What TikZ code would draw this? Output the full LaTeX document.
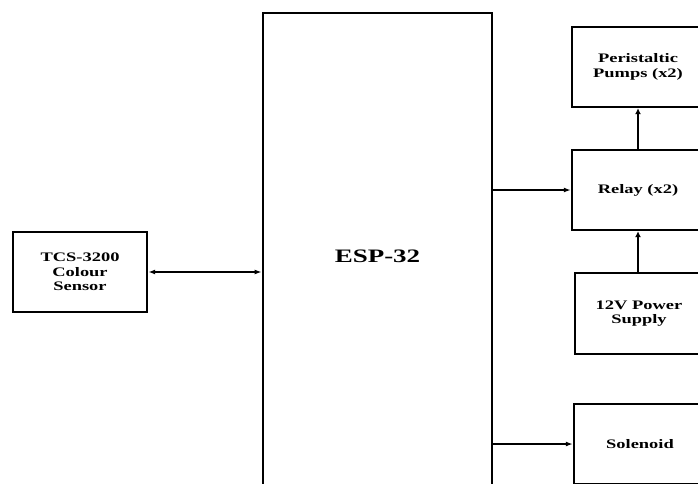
\documentclass[tikz,border=0pt]{standalone}
\usepackage{fontspec}
\setmainfont{Liberation Serif}[FakeStretch=1.42]
\usetikzlibrary{arrows.meta}
\begin{document}
\begin{tikzpicture}[x=1pt,y=-1pt,
  blk/.style={draw=black, line width=2.4pt, rectangle, align=center, inner sep=0pt,
    font=\bfseries\fontsize{13}{14.5}\selectfont},
  arr/.style={line width=1.5pt, -{Latex[length=7pt,width=5pt]}},
  darr/.style={line width=1.5pt, {Latex[length=7pt,width=5pt]}-{Latex[length=7pt,width=5pt]}},
  varr/.style={line width=2.6pt, -{Latex[length=6pt,width=6pt]}}]
\path[use as bounding box] (0,0) rectangle (698,484);
\clip (0,0) rectangle (698,484);
\fill[white] (0,0) rectangle (698,484);
\node[blk, minimum width=134pt, minimum height=80pt] (tcs) at (80,272) {TCS-3200\\Colour\\Sensor};
\node[blk, line width=2.8pt, minimum width=229pt, minimum height=486pt,
  font=\bfseries\fontsize{19}{22}\selectfont] (esp) at (377.5,256) {ESP-32};
\node[blk, minimum width=132pt, minimum height=80pt] (peri) at (638,67) {Peristaltic\\Pumps (x2)};
\node[blk, minimum width=132pt, minimum height=80pt] (relay) at (638,190) {Relay (x2)};
\node[blk, minimum width=128pt, minimum height=81pt] (power) at (639,313.5) {12V Power\\Supply};
\node[blk, minimum width=132pt, minimum height=80pt] (sol) at (640,444) {Solenoid};
\draw[darr] (tcs.east) -- (esp.west |- tcs.east);
\draw[arr] (esp.east |- relay.west) -- (relay.west);
\draw[arr] (esp.east |- sol.west) -- (sol.west);
\draw[varr] (relay.north) -- (peri.south);
\draw[varr] (relay.south |- power.north) -- (relay.south);
\end{tikzpicture}
\end{document}
